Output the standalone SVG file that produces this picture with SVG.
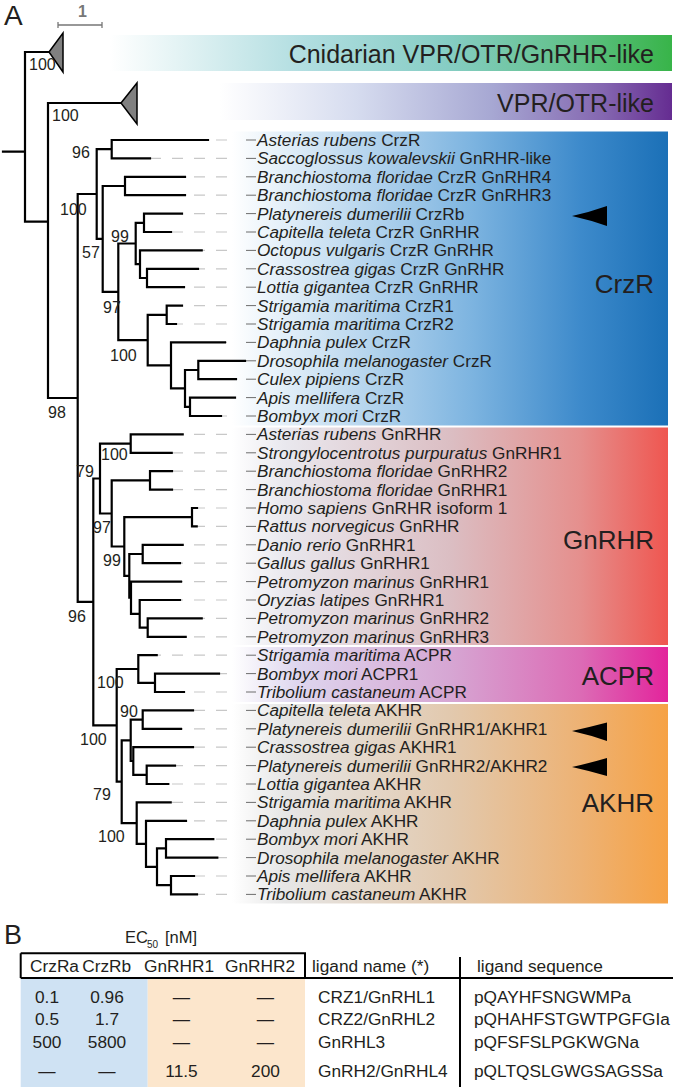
<svg xmlns="http://www.w3.org/2000/svg" width="677" height="1092" viewBox="0 0 677 1092">
<defs>
<linearGradient id="gCnid" x1="0" y1="0" x2="1" y2="0"><stop offset="0" stop-color="#ffffff"/><stop offset="0.35" stop-color="#b0dde0"/><stop offset="0.6" stop-color="#86cdc4"/><stop offset="0.82" stop-color="#62c18a"/><stop offset="1" stop-color="#38b449"/></linearGradient>
<linearGradient id="gVPR" x1="0" y1="0" x2="1" y2="0"><stop offset="0" stop-color="#ffffff"/><stop offset="0.3" stop-color="#d6dcef"/><stop offset="0.6" stop-color="#a7a8d3"/><stop offset="0.85" stop-color="#8466b0"/><stop offset="1" stop-color="#652c91"/></linearGradient>
<linearGradient id="gCrz" x1="0" y1="0" x2="1" y2="0"><stop offset="0" stop-color="#ffffff"/><stop offset="0.25" stop-color="#c4ddf1"/><stop offset="0.55" stop-color="#7db4e0"/><stop offset="0.8" stop-color="#3d8acb"/><stop offset="1" stop-color="#1b70b7"/></linearGradient>
<linearGradient id="gGn" x1="0" y1="0" x2="1" y2="0"><stop offset="0" stop-color="#ffffff"/><stop offset="0.12" stop-color="#e9e8ee"/><stop offset="0.5" stop-color="#dbbec3"/><stop offset="0.8" stop-color="#e58f8d"/><stop offset="1" stop-color="#ef5650"/></linearGradient>
<linearGradient id="gAcp" x1="0" y1="0" x2="1" y2="0"><stop offset="0" stop-color="#ffffff"/><stop offset="0.15" stop-color="#ded6ee"/><stop offset="0.5" stop-color="#d6a6d3"/><stop offset="0.8" stop-color="#dc6bb5"/><stop offset="1" stop-color="#e3249c"/></linearGradient>
<linearGradient id="gAk" x1="0" y1="0" x2="1" y2="0"><stop offset="0" stop-color="#ffffff"/><stop offset="0.12" stop-color="#e6e6e6"/><stop offset="0.5" stop-color="#e2c9ae"/><stop offset="0.8" stop-color="#edb274"/><stop offset="1" stop-color="#f6a245"/></linearGradient>
<style>
text{font-family:"Liberation Sans",Arial,sans-serif;fill:#231f20}
.tax{font-size:17.2px}
.bs{font-size:16px}
.clade{font-size:26px;text-anchor:end}
.tbl{font-size:17.3px}
.c{text-anchor:middle}
.i{font-style:italic}
.br{fill:none;stroke:#000;stroke-width:2.2;stroke-linecap:square}
.lead{fill:none;stroke:#c8c8c8;stroke-width:1.2;stroke-dasharray:11 11}
.dk{fill:none;stroke:#6d6d6d;stroke-width:1}
.tri{fill:#808080;stroke:#000;stroke-width:1.5;stroke-linejoin:miter}
.arr{fill:#000}
.tl{stroke:#000;stroke-width:2;fill:none}
</style>
</defs>

<g id="panel-labels">
<text x="4" y="25" style="font-size:28px">A</text>
<text x="4" y="944" style="font-size:27px">B</text>
</g>

<g id="scale-bar">
<text x="78" y="17" style="font-size:16px;font-weight:bold;fill:#777">1</text>
<path d="M58,25H102M58,22V28M102,22V28" stroke="#777" stroke-width="1.3" fill="none"/>
</g>

<g id="clade-boxes">
<g id="box-cnidarian"><rect x="110" y="35" width="562" height="36" fill="url(#gCnid)"/><text x="654" y="63" style="font-size:25px;text-anchor:end">Cnidarian VPR/OTR/GnRHR-like</text></g>
<g id="box-vpr"><rect x="220" y="83" width="452" height="37" fill="url(#gVPR)"/><text x="654" y="112" style="font-size:25px;text-anchor:end">VPR/OTR-like</text></g>
<g id="box-crzr"><rect x="232" y="131.5" width="436" height="294" fill="url(#gCrz)"/><text class="clade" x="654" y="293">CrzR</text></g>
<g id="box-gnrhr"><rect x="232" y="427.5" width="436" height="217.5" fill="url(#gGn)"/><text class="clade" x="654" y="549">GnRHR</text></g>
<g id="box-acpr"><rect x="232" y="647" width="436" height="55" fill="url(#gAcp)"/><text class="clade" x="654" y="685">ACPR</text></g>
<g id="box-akhr"><rect x="232" y="704" width="436" height="199.5" fill="url(#gAk)"/><text class="clade" x="654" y="812">AKHR</text></g>
</g>

<g id="connectors">
<path class="lead" d="M227,158.4H150M227,176.8H185M227,195.2H185M227,213.6H182M227,232H171M227,250.4H201.7M227,268.8H198M227,287.2H184M227,305.6H182M227,324H176M227,342.4H225M227,434.4H182.7M227,452.8H171.7M227,471.2H172M227,489.6H172M227,508H197M227,526.4H196.7M227,544.8H182.7M227,563.2H180M227,581.6H181M227,600H180M227,618.4H201.7M227,636.8H185.7M227,655.2H156.7M227,692H184M227,710.4H193M227,728.8H181M227,747.2H193M227,765.6H175M227,784H168.3M227,802.4H170.7M227,820.8H186M227,876H194M227,894.4H197M227,140H208M227,416H221M227,839.2H213.3M227,857.6H217.3M227,673.6H219"/>
<path class="dk" d="M246,140h10M246,158.4h10M246,176.8h10M246,195.2h10M246,213.6h10M246,232h10M246,250.4h10M246,268.8h10M246,287.2h10M246,305.6h10M246,324h10M246,342.4h10M246,360.8h10M246,379.2h10M246,397.6h10M246,416h10M246,434.4h10M246,452.8h10M246,471.2h10M246,489.6h10M246,508h10M246,526.4h10M246,544.8h10M246,563.2h10M246,581.6h10M246,600h10M246,618.4h10M246,636.8h10M246,655.2h10M246,673.6h10M246,692h10M246,710.4h10M246,728.8h10M246,747.2h10M246,765.6h10M246,784h10M246,802.4h10M246,820.8h10M246,839.2h10M246,857.6h10M246,876h10M246,894.4h10"/>
<path class="br" d="M3,151.7H25M25,52V221.7M25,52H49M25,221.7H48
M48,103V398M48,103H121M48,398H77.7
M77.7,194V601.9M77.7,194H96.7M77.7,601.9H93.3
M96.7,149.2V238.9M96.7,149.2H111.7M96.7,238.9H102.7
M111.7,140V158.4M111.7,140H208M111.7,158.4H150
M102.7,186V291.8M102.7,186H125M102.7,291.8H118.3
M125,176.8V195.2M125,176.8H185M125,195.2H185
M118.3,243.5V340.1M118.3,243.5H135.7M118.3,340.1H147.7
M135.7,222.8V264.2M135.7,222.8H144M135.7,264.2H140
M144,213.6V232M144,213.6H182M144,232H171
M140,250.4V278M140,250.4H201.7M140,278H147
M147,268.8V287.2M147,268.8H198M147,287.2H184
M147.7,314.8V365.4M147.7,314.8H166.7M147.7,365.4H171
M166.7,305.6V324M166.7,305.6H182M166.7,324H176
M171,342.4V388.4M171,342.4H225M171,388.4H185
M185,370V406.8M185,370H198.3M185,406.8H190
M198.3,360.8V379.2M198.3,360.8H245M198.3,379.2H236
M190,397.6V416M190,397.6H235M190,416H221
M93.3,478.5V725.3M93.3,478.5H100M93.3,725.3H116.7
M100,443.6V513.5M100,443.6H130.7M100,513.5H111.7
M130.7,434.4V452.8M130.7,434.4H182.7M130.7,452.8H171.7
M111.7,480.4V546.5M111.7,480.4H150M111.7,546.5H124.3
M150,471.2V489.6M150,471.2H172M150,489.6H172
M124.3,517.2V575.8M124.3,517.2H192M124.3,575.8H129.3
M192,508V526.4M192,508H197M192,526.4H196.7
M129.3,554V597.7M129.3,554H142.7M129.3,597.7H131
M142.7,544.8V563.2M142.7,544.8H182.7M142.7,563.2H180
M131,581.6V613.8M131,581.6H181M131,613.8H139.7
M139.7,600V627.6M139.7,600H180M139.7,627.6H147.7
M147.7,618.4V636.8M147.7,618.4H201.7M147.7,636.8H185.7
M116.7,669V781.7M116.7,669H138.3M116.7,781.7H121.7
M138.3,655.2V682.8M138.3,655.2H156.7M138.3,682.8H155
M155,673.6V692M155,673.6H219M155,692H184
M121.7,740.3V823.1M121.7,740.3H130.7M121.7,823.1H136.7
M130.7,719.6V761M130.7,719.6H142.7M130.7,761H133.3
M142.7,710.4V728.8M142.7,710.4H193M142.7,728.8H181
M133.3,747.2V774.8M133.3,747.2H193M133.3,774.8H146.7
M146.7,765.6V784M146.7,765.6H175M146.7,784H168.3
M136.7,802.4V843.8M136.7,802.4H170.7M136.7,843.8H146
M146,820.8V866.8M146,820.8H186M146,866.8H157
M157,848.4V885.2M157,848.4H166M157,885.2H171
M166,839.2V857.6M166,839.2H213.3M166,857.6H217.3
M171,876V894.4M171,876H194M171,894.4H197"/>
</g>

<g id="collapsed-clades">
<polygon id="tri-cnidarian" class="tri" points="49,52 63,33 63,72"/>
<polygon id="tri-vpr" class="tri" points="121,103 137,83 137,124"/>
</g>

<g id="bootstrap">
<text class="bs" x="29" y="70">100</text>
<text class="bs" x="52" y="121">100</text>
<text class="bs" x="72" y="158">96</text>
<text class="bs" x="60" y="215">100</text>
<text class="bs" x="82" y="258">57</text>
<text class="bs" x="111" y="242">99</text>
<text class="bs" x="103" y="313">97</text>
<text class="bs" x="110" y="361">100</text>
<text class="bs" x="48" y="418">98</text>
<text class="bs" x="101" y="460">100</text>
<text class="bs" x="76" y="477">79</text>
<text class="bs" x="93" y="533">97</text>
<text class="bs" x="103" y="566">99</text>
<text class="bs" x="68" y="622">96</text>
<text class="bs" x="97" y="688">100</text>
<text class="bs" x="120" y="717">90</text>
<text class="bs" x="80" y="745">100</text>
<text class="bs" x="93" y="800">79</text>
<text class="bs" x="98" y="842">100</text>
</g>

<g id="taxa">
<text class="tax" x="257" y="146"><tspan class="i">Asterias rubens</tspan> CrzR</text>
<text class="tax" x="257" y="164.4"><tspan class="i">Saccoglossus kowalevskii</tspan> GnRHR-like</text>
<text class="tax" x="257" y="182.8"><tspan class="i">Branchiostoma floridae</tspan> CrzR GnRHR4</text>
<text class="tax" x="257" y="201.2"><tspan class="i">Branchiostoma floridae</tspan> CrzR GnRHR3</text>
<text class="tax" x="257" y="219.6"><tspan class="i">Platynereis dumerilii</tspan> CrzRb</text>
<text class="tax" x="257" y="238"><tspan class="i">Capitella teleta</tspan> CrzR GnRHR</text>
<text class="tax" x="257" y="256.4"><tspan class="i">Octopus vulgaris</tspan> CrzR GnRHR</text>
<text class="tax" x="257" y="274.8"><tspan class="i">Crassostrea gigas</tspan> CrzR GnRHR</text>
<text class="tax" x="257" y="293.2"><tspan class="i">Lottia gigantea</tspan> CrzR GnRHR</text>
<text class="tax" x="257" y="311.6"><tspan class="i">Strigamia maritima</tspan> CrzR1</text>
<text class="tax" x="257" y="330"><tspan class="i">Strigamia maritima</tspan> CrzR2</text>
<text class="tax" x="257" y="348.4"><tspan class="i">Daphnia pulex</tspan> CrzR</text>
<text class="tax" x="257" y="366.8"><tspan class="i">Drosophila melanogaster</tspan> CrzR</text>
<text class="tax" x="257" y="385.2"><tspan class="i">Culex pipiens</tspan> CrzR</text>
<text class="tax" x="257" y="403.6"><tspan class="i">Apis mellifera</tspan> CrzR</text>
<text class="tax" x="257" y="422"><tspan class="i">Bombyx mori</tspan> CrzR</text>
<text class="tax" x="257" y="440.4"><tspan class="i">Asterias rubens</tspan> GnRHR</text>
<text class="tax" x="257" y="458.8"><tspan class="i">Strongylocentrotus purpuratus</tspan> GnRHR1</text>
<text class="tax" x="257" y="477.2"><tspan class="i">Branchiostoma floridae</tspan> GnRHR2</text>
<text class="tax" x="257" y="495.6"><tspan class="i">Branchiostoma floridae</tspan> GnRHR1</text>
<text class="tax" x="257" y="514"><tspan class="i">Homo sapiens</tspan> GnRHR isoform 1</text>
<text class="tax" x="257" y="532.4"><tspan class="i">Rattus norvegicus</tspan> GnRHR</text>
<text class="tax" x="257" y="550.8"><tspan class="i">Danio rerio</tspan> GnRHR1</text>
<text class="tax" x="257" y="569.2"><tspan class="i">Gallus gallus</tspan> GnRHR1</text>
<text class="tax" x="257" y="587.6"><tspan class="i">Petromyzon marinus</tspan> GnRHR1</text>
<text class="tax" x="257" y="606"><tspan class="i">Oryzias latipes</tspan> GnRHR1</text>
<text class="tax" x="257" y="624.4"><tspan class="i">Petromyzon marinus</tspan> GnRHR2</text>
<text class="tax" x="257" y="642.8"><tspan class="i">Petromyzon marinus</tspan> GnRHR3</text>
<text class="tax" x="257" y="661.2"><tspan class="i">Strigamia maritima</tspan> ACPR</text>
<text class="tax" x="257" y="679.6"><tspan class="i">Bombyx mori</tspan> ACPR1</text>
<text class="tax" x="257" y="698"><tspan class="i">Tribolium castaneum</tspan> ACPR</text>
<text class="tax" x="257" y="716.4"><tspan class="i">Capitella teleta</tspan> AKHR</text>
<text class="tax" x="257" y="734.8"><tspan class="i">Platynereis dumerilii</tspan> GnRHR1/AKHR1</text>
<text class="tax" x="257" y="753.2"><tspan class="i">Crassostrea gigas</tspan> AKHR1</text>
<text class="tax" x="257" y="771.6"><tspan class="i">Platynereis dumerilii</tspan> GnRHR2/AKHR2</text>
<text class="tax" x="257" y="790"><tspan class="i">Lottia gigantea</tspan> AKHR</text>
<text class="tax" x="257" y="808.4"><tspan class="i">Strigamia maritima</tspan> AKHR</text>
<text class="tax" x="257" y="826.8"><tspan class="i">Daphnia pulex</tspan> AKHR</text>
<text class="tax" x="257" y="845.2"><tspan class="i">Bombyx mori</tspan> AKHR</text>
<text class="tax" x="257" y="863.6"><tspan class="i">Drosophila melanogaster</tspan> AKHR</text>
<text class="tax" x="257" y="882"><tspan class="i">Apis mellifera</tspan> AKHR</text>
<text class="tax" x="257" y="900.4"><tspan class="i">Tribolium castaneum</tspan> AKHR</text>
</g>

<g id="arrowheads">
<path class="arr" d="M572,216Q590,212 607,206V226Q590,220 572,216Z"/>
<path class="arr" d="M572,731Q590,727 607,722.5V741Q590,735 572,731Z"/>
<path class="arr" d="M572,767Q590,763 607,758V776Q590,771 572,767Z"/>
</g>

<g id="table">
<rect x="20.7" y="978" width="127" height="109" fill="#cfe2f3"/>
<rect x="147.7" y="978" width="157.3" height="109" fill="#fce6cc"/>
<path class="tl" d="M20.7,953.3H305V978M20.7,953.3V978M20.7,978H673M460,957V1087"/>
<text x="125" y="943" style="font-size:16.5px">EC</text>
<text x="147" y="948" style="font-size:10px">50</text>
<text x="165" y="943" style="font-size:16.5px">[nM]</text>
<g id="table-header">
<text class="tbl c" x="54.5" y="972">CrzRa</text>
<text class="tbl c" x="106.7" y="972">CrzRb</text>
<text class="tbl c" x="179" y="972">GnRHR1</text>
<text class="tbl c" x="260" y="972">GnRHR2</text>
<text class="tbl" x="312" y="972">ligand name (*)</text>
<text class="tbl" x="477" y="972">ligand sequence</text>
</g>
<g id="table-row1">
<text class="tbl c" x="47" y="1003">0.1</text><text class="tbl c" x="107" y="1003">0.96</text><text class="tbl c" x="181.5" y="1003">—</text><text class="tbl c" x="265.5" y="1003">—</text>
<text class="tbl" x="318" y="1003">CRZ1/GnRHL1</text><text class="tbl" x="474" y="1003">pQAYHFSNGWMPa</text>
</g>
<g id="table-row2">
<text class="tbl c" x="47" y="1025">0.5</text><text class="tbl c" x="107" y="1025">1.7</text><text class="tbl c" x="181.5" y="1025">—</text><text class="tbl c" x="265.5" y="1025">—</text>
<text class="tbl" x="318" y="1025">CRZ2/GnRHL2</text><text class="tbl" x="474" y="1025">pQHAHFSTGWTPGFGIa</text>
</g>
<g id="table-row3">
<text class="tbl c" x="47" y="1047.5">500</text><text class="tbl c" x="107" y="1047.5">5800</text><text class="tbl c" x="181.5" y="1047.5">—</text><text class="tbl c" x="265.5" y="1047.5">—</text>
<text class="tbl" x="318" y="1047.5">GnRHL3</text><text class="tbl" x="474" y="1047.5">pQFSFSLPGKWGNa</text>
</g>
<g id="table-row4">
<text class="tbl c" x="47" y="1076.5">—</text><text class="tbl c" x="107" y="1076.5">—</text><text class="tbl c" x="181.5" y="1076.5">11.5</text><text class="tbl c" x="265.5" y="1076.5">200</text>
<text class="tbl" x="318" y="1076.5">GnRH2/GnRHL4</text><text class="tbl" x="474" y="1076.5">pQLTQSLGWGSAGSSa</text>
</g>
</g>
</svg>
